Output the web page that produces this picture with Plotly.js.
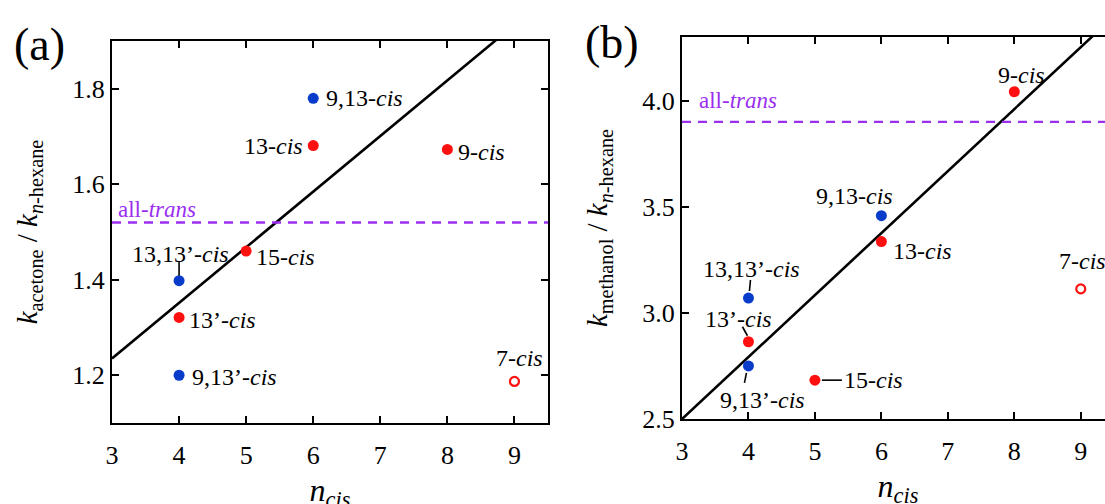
<!DOCTYPE html>
<html>
<head>
<meta charset="utf-8">
<script src="https://cdn.plot.ly/plotly-3.0.1.min.js"></script>
<style>
html,body{margin:0;padding:0;overflow:hidden;background:#fff;width:1105px;height:504px;}
#chart{width:1120px;height:524px;}
</style>
</head>
<body>
<div id="chart"></div>
<script>
// ---------- data ----------
// panel (a): k_acetone / k_n-hexane
const nCisA_red   = [6, 8, 5, 4];
const kA_red      = [1.681, 1.673, 1.46, 1.321];
const nCisA_blue  = [6, 4, 4];
const kA_blue     = [1.78, 1.398, 1.2];
const nCisA_open  = [9];
const kA_open     = [1.187];
const allTransA   = 1.52;
const fitA        = [1.235, 0.1165];   // [value at n=3, slope]

// panel (b): k_methanol / k_n-hexane
const nCisB_red   = [8, 6, 4, 5];
const kB_red      = [4.042, 3.336, 2.864, 2.683];
const nCisB_blue  = [6, 4, 4];
const kB_blue     = [3.458, 3.07, 2.75];
const nCisB_open  = [9];
const kB_open     = [3.113];
const allTransB   = 3.90;
const fitB        = [2.50, 0.292];

const xRange = [3, 9.5];
const xTicks = [3, 4, 5, 6, 7, 8, 9];

// ---------- styles ----------
const RED = '#ff1010', BLUE = '#0a3ccc', PURPLE = '#9b2ff0';
const FONT = '"Liberation Serif", "Times New Roman", Times, serif';
const W = 1120, H = 524;

function fitLine(fit, xa, ya) {
  const xs = xRange.slice();
  return {x: xs, y: xs.map(v => fit[0] + fit[1] * (v - 3)), xaxis: xa, yaxis: ya,
          mode: 'lines', line: {color: '#000', width: 2.6}, hoverinfo: 'skip'};
}
function pts(x, y, color, xa, ya, open) {
  return {x: x, y: y, xaxis: xa, yaxis: ya, mode: 'markers',
    marker: open ? {size: 9, color: 'rgba(0,0,0,0)', line: {color: color, width: 2.2}}
                 : {size: 11, color: color, line: {width: 0}}};
}

const traces = [
  fitLine(fitA, 'x', 'y'),
  pts(nCisA_red, kA_red, RED, 'x', 'y'),
  pts(nCisA_blue, kA_blue, BLUE, 'x', 'y'),
  pts(nCisA_open, kA_open, RED, 'x', 'y', true),
  fitLine(fitB, 'x2', 'y2'),
  pts(nCisB_red, kB_red, RED, 'x2', 'y2'),
  pts(nCisB_blue, kB_blue, BLUE, 'x2', 'y2'),
  pts(nCisB_open, kB_open, RED, 'x2', 'y2', true)
];

function xAxis(dom, anchor) {
  return {domain: dom, anchor: anchor, range: xRange, tickvals: xTicks,
    ticks: 'inside', ticklen: 7, tickwidth: 2, tickcolor: '#000',
    showline: true, linewidth: 2, linecolor: '#000', mirror: 'ticks',
    showgrid: false, zeroline: false, ticklabelstandoff: 8,
    tickfont: {family: FONT, size: 26, color: '#000'},
    title: {text: '<i>n</i><sub><i>cis</i></sub>', font: {family: FONT, size: 32, color: '#000'}, standoff: 9}};
}
function yAxis(dom, anchor, range, dtick, title) {
  return {domain: dom, anchor: anchor, range: range, dtick: dtick, tick0: 0, tickformat: '.1f',
    ticks: 'inside', ticklen: 7, tickwidth: 2, tickcolor: '#000',
    showline: true, linewidth: 2, linecolor: '#000', mirror: 'ticks',
    showgrid: false, zeroline: false,
    tickfont: {family: FONT, size: 26, color: '#000'},
    title: {text: title, font: {family: FONT, size: 29, color: '#000'}, standoff: 26}};
}

function lab(text, x, y, xa, ya, xanchor, xshift, yshift, extra) {
  return Object.assign({text: text, x: x, y: y, xref: xa, yref: ya, showarrow: false,
    xanchor: xanchor, yanchor: 'middle', xshift: xshift, yshift: yshift,
    font: {family: FONT, size: 24, color: '#000'}}, extra || {});
}
const purpleFont = {font: {family: FONT, size: 23, color: PURPLE}};

const annotations = [
  // panel (a)
  lab('9,13-<i>cis</i>', nCisA_blue[0], kA_blue[0], 'x', 'y', 'left', 11, 0),
  lab('13-<i>cis</i>', nCisA_red[0], kA_red[0], 'x', 'y', 'right', -8, 0),
  lab('9-<i>cis</i>', nCisA_red[1], kA_red[1], 'x', 'y', 'left', 9, -3),
  lab('15-<i>cis</i>', nCisA_red[2], kA_red[2], 'x', 'y', 'left', 8, -6),
  lab('13’-<i>cis</i>', nCisA_red[3], kA_red[3], 'x', 'y', 'left', 8, -3),
  lab('13,13’-<i>cis</i>', nCisA_blue[1], kA_blue[1], 'x', 'y', 'center', 1, 27),
  lab('9,13’-<i>cis</i>', nCisA_blue[2], kA_blue[2], 'x', 'y', 'left', 11, -2),
  lab('7-<i>cis</i>', nCisA_open[0], kA_open[0], 'x', 'y', 'center', 5, 23),
  lab('all-<i>trans</i>', 0, allTransA, 'x domain', 'y', 'left', 4, 13, purpleFont),
  {text: '(a)', x: 39 / W, y: 1 - 44 / H, xref: 'paper', yref: 'paper', showarrow: false,
   xanchor: 'center', yanchor: 'middle', font: {family: FONT, size: 46, color: '#000'}},
  // panel (b)
  lab('9-<i>cis</i>', nCisB_red[0], kB_red[0], 'x2', 'y2', 'center', 7, 17),
  lab('13-<i>cis</i>', nCisB_red[1], kB_red[1], 'x2', 'y2', 'left', 10, -9),
  lab('13’-<i>cis</i>', nCisB_red[2], kB_red[2], 'x2', 'y2', 'center', -10, 23),
  lab('15-<i>cis</i>', nCisB_red[3], kB_red[3], 'x2', 'y2', 'left', 27, 0),
  lab('9,13-<i>cis</i>', nCisB_blue[0], kB_blue[0], 'x2', 'y2', 'right', 14, 20),
  lab('13,13’-<i>cis</i>', nCisB_blue[1], kB_blue[1], 'x2', 'y2', 'center', 3, 29),
  lab('9,13’-<i>cis</i>', nCisB_blue[2], kB_blue[2], 'x2', 'y2', 'center', 14, -34),
  lab('7-<i>cis</i>', nCisB_open[0], kB_open[0], 'x2', 'y2', 'center', 2, 28),
  lab('all-<i>trans</i>', 0, allTransB, 'x2 domain', 'y2', 'left', 15, 21, purpleFont),
  {text: '(b)', x: 612 / W, y: 1 - 43 / H, xref: 'paper', yref: 'paper', showarrow: false,
   xanchor: 'center', yanchor: 'middle', font: {family: FONT, size: 46, color: '#000'}}
];

function stub(xa, ya, xv, yv, x0, y0, x1, y1) {
  return {type: 'line', xref: xa, yref: ya, xsizemode: 'pixel', ysizemode: 'pixel',
    xanchor: xv, yanchor: yv, x0: x0, x1: x1, y0: y0, y1: y1,
    line: {color: '#000', width: 1.6}};
}
function dashLine(xa, ya, v) {
  return {type: 'line', xref: xa + ' domain', yref: ya, x0: 0, x1: 1, y0: v, y1: v,
    line: {color: PURPLE, width: 2.4, dash: '9px,7px'}};
}

const shapes = [
  dashLine('x', 'y', allTransA),
  dashLine('x2', 'y2', allTransB),
  stub('x', 'y', nCisA_blue[1], kA_blue[1], 0, 19, 0, 5),
  stub('x2', 'y2', nCisB_blue[1], kB_blue[1], 2, 18, 1, 7),
  stub('x2', 'y2', nCisB_red[2], kB_red[2], -6, 15, -1, 6),
  stub('x2', 'y2', nCisB_blue[2], kB_blue[2], -2, -7, -4, -17),
  stub('x2', 'y2', nCisB_red[3], kB_red[3], 7, 0, 27, 0)
];

// domains from pixel positions measured from the top-left corner
const layout = {
  width: W, height: H, margin: {l: 0, r: 0, t: 0, b: 0},
  paper_bgcolor: '#fff', plot_bgcolor: '#fff', showlegend: false,
  font: {family: FONT},
  xaxis: xAxis([112 / W, 548 / W], 'y'),
  yaxis: yAxis([(H - 423) / H, (H - 41) / H], 'x', [1.1, 1.9], 0.2,
    '<i>k</i><sub>acetone</sub> / <i>k</i><sub><i>n</i>-hexane</sub>'),
  xaxis2: xAxis([682 / W, 1114 / W], 'y2'),
  yaxis2: yAxis([(H - 419) / H, (H - 37) / H], 'x2', [2.5, 4.3], 0.5,
    '<i>k</i><sub>methanol</sub> / <i>k</i><sub><i>n</i>-hexane</sub>'),
  annotations: annotations,
  shapes: shapes
};

Plotly.newPlot('chart', traces, layout, {displayModeBar: false});
</script>
</body>
</html>
